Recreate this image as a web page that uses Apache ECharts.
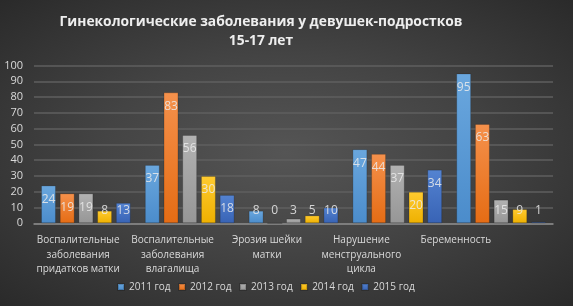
<!DOCTYPE html>
<html>
<head>
<meta charset="utf-8">
<script src="https://cdn.jsdelivr.net/npm/echarts@6/dist/echarts.min.js"></script>
<style>
html,body{margin:0;padding:0;}
#c{width:573px;height:306px;background:radial-gradient(ellipse at 50% 50%, #555555 0%, #444444 45%, #2a2a2a 100%);}
</style>
</head>
<body>
<div id="c"></div>
<script>
const titleText = 'Гинекологические заболевания у девушек-подростков\n15-17 лет';
const categories = ['Воспалительные заболевания придатков матки', 'Воспалительные заболевания влагалища', 'Эрозия шейки матки', 'Нарушение менструального цикла', 'Беременность'];
const seriesNames = ['2011 год', '2012 год', '2013 год', '2014 год', '2015 год'];
const v2011 = [24, 37, 8, 47, 95];
const v2012 = [19, 83, 0, 44, 63];
const v2013 = [19, 56, 3, 37, 15];
const v2014 = [8, 30, 5, 20, 9];
const v2015 = [13, 18, 10, 34, 1];
const yTicks = {min: 0, max: 100, interval: 10};

const values = [v2011, v2012, v2013, v2014, v2015];
const colors = [
  ['#6aa7de', '#4b8ccb', '#5b9bd5'],
  ['#f5914c', '#e56c14', '#ed7d31'],
  ['#b2b2b2', '#969696', '#a5a5a5'],
  ['#ffcb30', '#eeb000', '#ffc000'],
  ['#5483d1', '#3863b5', '#4472c4']
];

function grad(c) {
  return new echarts.graphic.LinearGradient(0, 0, 0, 1, [{offset: 0, color: c[0]}, {offset: 1, color: c[1]}]);
}
function wrap(s) {
  const words = s.split(' ');
  const lines = [];
  let cur = '';
  words.forEach(w => {
    if (cur && (cur + ' ' + w).length > 15) { lines.push(cur); cur = w; }
    else cur = cur ? cur + ' ' + w : w;
  });
  if (cur) lines.push(cur);
  return lines.join('\n');
}

const chart = echarts.init(document.getElementById('c'), null, {renderer: 'canvas'});
const series = values.map((arr, i) => ({
  name: seriesNames[i],
  type: 'bar',
  xAxisIndex: 0,
  yAxisIndex: 0,
  barGap: '25%',
  barCategoryGap: '13.5%',
  itemStyle: {color: grad(colors[i]), borderColor: 'rgba(0,0,0,0.18)', borderWidth: 1},
  data: arr.map(v => ({
    value: v,
    label: v >= 17 ? {position: 'insideTop', distance: 8} : {position: 'insideBottom', distance: 7}
  })),
  label: {
    show: true,
    color: 'rgba(235,235,235,0.85)',
    fontSize: 12,
    fontFamily: 'Open Sans'
  }
}));

chart.setOption({
  backgroundColor: 'transparent',
  animation: false,
  color: colors.map(c => c[2]),
  title: {
    text: titleText,
    left: 261,
    textAlign: 'center',
    top: 13,
    padding: 0,
    textStyle: {color: '#eeeeee', fontSize: 13.8, fontWeight: 'bold', fontFamily: 'Open Sans', lineHeight: 18.5}
  },
  legend: {
    data: seriesNames,
    left: 117,
    top: 282,
    padding: 0,
    itemWidth: 6,
    itemHeight: 6,
    itemGap: 7.5,
    icon: 'rect',
    textStyle: {color: '#d9d9d9', fontSize: 10, fontFamily: 'Open Sans'}
  },
  grid: [
    {left: 34, right: 20, top: 65.5, bottom: 82.7, outerBoundsMode: 'none'},
    {left: 31, right: 70, top: 65.5, bottom: 82.7, outerBoundsMode: 'none'}
  ],
  xAxis: [
    {
      type: 'category', gridIndex: 0, data: categories,
      axisLine: {lineStyle: {color: '#8a8a8a', width: 1.5}},
      axisTick: {show: false},
      axisLabel: {show: false}
    },
    {
      type: 'category', gridIndex: 1, data: categories,
      axisLine: {show: false},
      axisTick: {show: false},
      axisLabel: {color: '#d9d9d9', fontSize: 10, fontFamily: 'Open Sans', lineHeight: 14.5, margin: 10, interval: 0, formatter: wrap}
    }
  ],
  yAxis: [
    {
      type: 'value', gridIndex: 0, min: yTicks.min, max: yTicks.max, interval: yTicks.interval,
      axisLine: {show: false}, axisTick: {show: false},
      axisLabel: {color: '#d9d9d9', fontSize: 11, fontFamily: 'Open Sans', margin: 11},
      splitLine: {lineStyle: {color: '#5f5f5f', width: 1.5}}
    },
    {
      type: 'value', gridIndex: 1, min: yTicks.min, max: yTicks.max, show: false,
      splitLine: {show: false}
    }
  ],
  series: series
});
</script>
</body>
</html>
